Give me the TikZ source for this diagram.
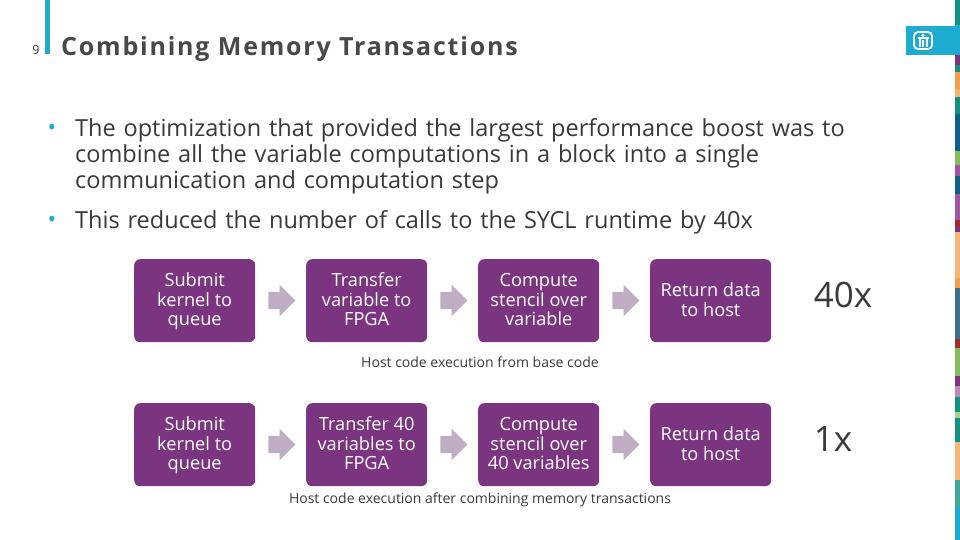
\documentclass[tikz,border=0pt]{standalone}
\usepackage{fontspec}
\setmainfont{Open Sans}
\newfontfamily\titlefont[LetterSpace=7.2]{Open Sans}
\usetikzlibrary{shapes.arrows}
\definecolor{sblue}{HTML}{1EABD0}
\definecolor{spurple}{HTML}{7B3580}
\definecolor{sarrow}{HTML}{BFAEC3}
\definecolor{stext}{HTML}{3A3A3C}
\definecolor{stitle}{HTML}{48484B}
\definecolor{steal}{HTML}{13907F}
\definecolor{sdark}{HTML}{0F5F85}
\definecolor{sorange}{HTML}{F0A050}
\definecolor{slight}{HTML}{F5B574}
\definecolor{sgreen}{HTML}{85BC63}
\definecolor{slp}{HTML}{A0569F}
\definecolor{sred}{HTML}{A32A2A}
\definecolor{sslate}{HTML}{3F6F88}
\definecolor{sbullet}{HTML}{1EABD0}
\newcommand{\topst}{\rule{0pt}{16pt}}
\newcommand{\botst}{\rule[-5pt]{0pt}{5pt}}
\tikzset{
 stepbox/.style={draw=none,fill=spurple,rounded corners=6pt,minimum width=121pt,minimum height=83pt,inner sep=0pt,text=white,align=center,font=\fontsize{18.2}{19.7}\selectfont,anchor=north west},
 flowarrow/.style={single arrow,fill=sarrow,draw=none,text height=17pt,text depth=0pt,text width=1pt,minimum height=27pt,single arrow head extend=7pt,inner sep=0pt,single arrow head indent=0pt},
 bodytext/.style={anchor=north west,inner sep=0pt,text=stext,font=\fontsize{23.5}{26}\selectfont,align=left,text width=820pt},
 bullet/.style={anchor=center,inner sep=0pt,text=sbullet,font=\fontsize{23}{26}\selectfont},
 caption/.style={inner sep=0pt,text=stext,font=\fontsize{14}{16}\selectfont},
 bigtext/.style={inner sep=0pt,text=stext,font=\fontsize{35}{40}\selectfont},
}
\newcommand{\stripe}[3]{\fill[#3] (955,#1) rectangle (960,#2);}
\begin{document}
\begin{tikzpicture}[x=1pt,y=-1pt]
\useasboundingbox (0,0) rectangle (960,540);
\fill[white] (0,0) rectangle (960,540);
% right strip
\stripe{0}{25}{steal}
\stripe{25}{55}{sblue}
\stripe{55}{65}{spurple}
\stripe{65}{72}{steal}
\stripe{72}{89}{sorange}
\stripe{89}{97}{slight}
\stripe{97}{114}{steal}
\stripe{114}{151}{sdark}
\stripe{151}{165}{sgreen}
\stripe{165}{176}{slp}
\stripe{176}{194}{sdark}
\stripe{194}{220}{slp}
\stripe{220}{227}{sred}
\stripe{227}{232}{spurple}
\stripe{232}{278}{slight}
\stripe{278}{288}{sorange}
\stripe{288}{339}{sslate}
\stripe{339}{348}{sred}
\stripe{348}{376}{sgreen}
\stripe{376}{386}{spurple}
\stripe{386}{397}{slp!70}
\stripe{397}{412}{steal}
\stripe{412}{418}{sgreen!70}
\stripe{418}{442}{steal}
\stripe{442}{480}{slight}
\stripe{480}{507}{steal!80}
\stripe{507}{540}{sblue}
% logo
\fill[sblue] (906,26) rectangle (960,55);
\draw[white,line width=1.8pt,rounded corners=4pt] (914,32) rectangle (932,49);
\fill[white] (917.5,37.5) rectangle (928.5,39.2);
\fill[white] (918.5,37.5) rectangle (920.5,47);
\fill[white] (925.5,37.5) rectangle (927.5,47);
\fill[white] (922,40) rectangle (924,47);
\fill[white] (923,35.4) circle (1.7);
% header
\fill[sblue] (45,0) rectangle (50,54);
\node[inner sep=0pt,text=stext,font=\fontsize{12.5}{14}\selectfont] (pagenum) at (36,50) {9};
\node[anchor=base west,inner sep=0pt,text=stitle,font=\fontsize{25}{30}\titlefont\bfseries] (title) at (61,55.5) {Combining Memory Transactions};
% bullets
\node[bullet] (b1) at (52,130) {•};
\node[bodytext] (t1) at (75,118) {The optimization that provided the largest performance boost was to\\combine all the variable computations in a block into a single\\communication and computation step};
\node[bullet] (b2) at (52,222) {•};
\node[bodytext] (t2) at (75,210) {This reduced the number of calls to the SYCL runtime by 40x};
% row 1
\node[stepbox] (a1) at (134,259) {\topst Submit\\kernel to\\queue\botst};
\node[stepbox] (a2) at (306,259) {\topst Transfer\\variable to\\FPGA\botst};
\node[stepbox] (a3) at (478,259) {\topst Compute\\stencil over\\variable\botst};
\node[stepbox] (a4) at (650,259) {\topst Return data\\to host\botst};
\node[flowarrow] (f1) at (277.5,300.5) {};
\node[flowarrow] (f2) at (449.5,300.5) {};
\node[flowarrow] (f3) at (621.5,300.5) {};
\node[bigtext] (x40) at (843,295) {40x};
\node[caption] (c1) at (480,362.5) {Host code execution from base code};
% row 2
\node[stepbox] (b1box) at (134,403) {\topst Submit\\kernel to\\queue\botst};
\node[stepbox] (b2box) at (306,403) {\topst Transfer 40\\variables to\\FPGA\botst};
\node[stepbox] (b3box) at (478,403) {\topst Compute\\stencil over\\40 variables\botst};
\node[stepbox] (b4box) at (650,403) {\topst Return data\\to host\botst};
\node[flowarrow] (g1) at (277.5,444.5) {};
\node[flowarrow] (g2) at (449.5,444.5) {};
\node[flowarrow] (g3) at (621.5,444.5) {};
\node[bigtext] (x1) at (833,439) {1x};
\node[caption] (c2) at (480,499.5) {Host code execution after combining memory transactions};
\end{tikzpicture}
\end{document}
